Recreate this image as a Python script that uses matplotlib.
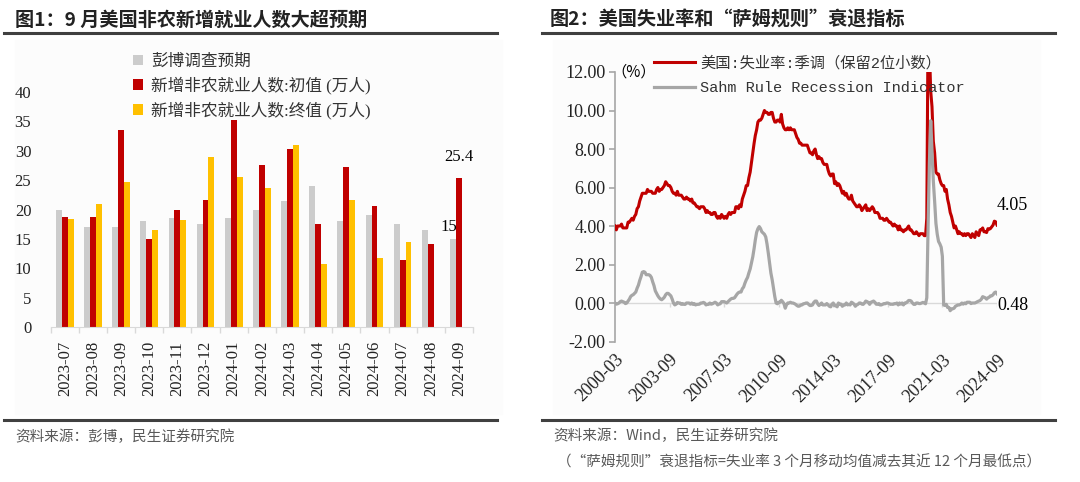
import numpy as np
import pandas as pd
import matplotlib.pyplot as plt
from matplotlib.lines import Line2D
from matplotlib.patches import Rectangle
from matplotlib.font_manager import FontProperties

# ---- chart 1 data: nonfarm payrolls (10k persons)
months = ['2023-07', '2023-08', '2023-09', '2023-10', '2023-11', '2023-12', '2024-01', '2024-02',
          '2024-03', '2024-04', '2024-05', '2024-06', '2024-07', '2024-08', '2024-09']
bbg_expect = [20.0, 17.0, 17.0, 18.0, 18.5, 17.5, 18.5, 20.0, 21.4, 24.0, 18.0, 19.0, 17.5, 16.5, 15.0]
nfp_first = [18.7, 18.7, 33.6, 15.0, 19.9, 21.6, 35.3, 27.5, 30.3, 17.5, 27.2, 20.6, 11.4, 14.2, 25.4]
nfp_final = [18.4, 21.0, 24.6, 16.5, 18.2, 29.0, 25.6, 23.6, 31.0, 10.8, 21.6, 11.8, 14.4, np.nan, np.nan]

# ---- chart 2 data: monthly from 2000-03 to 2024-09
unemp = [4.0, 3.8, 4.0, 4.0, 4.0, 4.1, 3.9, 3.9, 3.9, 3.9,
         4.2, 4.2, 4.3, 4.4, 4.3, 4.5, 4.6, 4.9, 5.0, 5.3, 5.5, 5.7,
         5.7, 5.7, 5.7, 5.9, 5.8, 5.8, 5.8, 5.7, 5.7, 5.7, 5.9, 6.0,
         5.8, 5.9, 5.9, 6.0, 6.1, 6.3, 6.2, 6.1, 6.1, 6.0, 5.8, 5.7,
         5.7, 5.6, 5.8, 5.6, 5.6, 5.6, 5.5, 5.4, 5.4, 5.5, 5.4, 5.4,
         5.3, 5.4, 5.2, 5.2, 5.1, 5.0, 5.0, 4.9, 5.0, 5.0, 5.0, 4.9,
         4.7, 4.8, 4.7, 4.7, 4.6, 4.6, 4.7, 4.7, 4.5, 4.4, 4.5, 4.4,
         4.6, 4.5, 4.4, 4.5, 4.4, 4.6, 4.7, 4.6, 4.7, 4.7, 4.7, 5.0,
         5.0, 4.9, 5.1, 5.0, 5.4, 5.6, 5.8, 6.1, 6.1, 6.5, 6.8, 7.3,
         7.8, 8.3, 8.7, 9.0, 9.4, 9.5, 9.5, 9.6, 9.8, 10.0, 9.9, 9.9,
         9.8, 9.8, 9.9, 9.9, 9.6, 9.4, 9.4, 9.5, 9.5, 9.4, 9.8, 9.3,
         9.1, 9.0, 9.0, 9.1, 9.0, 9.1, 9.0, 9.0, 9.0, 8.8, 8.6, 8.5,
         8.3, 8.3, 8.2, 8.2, 8.2, 8.2, 8.2, 8.0, 7.8, 7.8, 7.7, 7.9,
         8.0, 7.7, 7.5, 7.6, 7.5, 7.5, 7.3, 7.2, 7.2, 7.2, 6.9, 6.7,
         6.6, 6.7, 6.7, 6.2, 6.3, 6.1, 6.2, 6.1, 5.9, 5.7, 5.8, 5.6,
         5.7, 5.5, 5.4, 5.4, 5.6, 5.3, 5.2, 5.1, 5.0, 5.0, 5.1, 5.0,
         4.8, 4.9, 5.0, 5.1, 4.8, 4.9, 4.8, 4.9, 5.0, 4.9, 4.7, 4.7,
         4.7, 4.6, 4.4, 4.4, 4.4, 4.3, 4.3, 4.4, 4.3, 4.2, 4.2, 4.1,
         4.0, 4.1, 4.0, 4.0, 3.8, 4.0, 3.8, 3.8, 3.7, 3.8, 3.8, 3.9,
         4.0, 3.8, 3.8, 3.7, 3.6, 3.6, 3.7, 3.6, 3.5, 3.6, 3.6, 3.6,
         3.5, 3.5, 4.4, 14.8, 13.2, 11.0, 10.2, 8.4, 7.8, 6.8, 6.7, 6.7,
         6.4, 6.2, 6.1, 6.1, 5.8, 5.9, 5.4, 5.1, 4.7, 4.5, 4.2, 3.9,
         4.0, 3.8, 3.6, 3.7, 3.6, 3.6, 3.5, 3.6, 3.5, 3.6, 3.6, 3.5,
         3.4, 3.6, 3.5, 3.4, 3.7, 3.6, 3.5, 3.8, 3.8, 3.9, 3.7, 3.7,
         3.66, 3.86, 3.83, 3.87, 3.96, 4.05, 4.25, 4.22, 4.05]

sahm = [0.00, -0.06, -0.04, 0.00, 0.07, 0.10, 0.07, 0.04, -0.03, 0.00,
        0.10, 0.20, 0.33, 0.40, 0.43, 0.50, 0.57, 0.77, 0.93, 1.17, 1.37, 1.60,
        1.63, 1.60, 1.47, 1.47, 1.47, 1.43, 1.33, 1.10, 0.90, 0.63, 0.50, 0.37,
        0.27, 0.20, 0.17, 0.23, 0.30, 0.43, 0.50, 0.50, 0.43, 0.37, 0.20, 0.00,
        -0.10, -0.06, 0.03, 0.00, 0.00, -0.07, -0.03, -0.07, -0.07, 0.00, 0.00, 0.00,
        -0.06, 0.00, -0.07, -0.03, -0.10, -0.07, -0.07, -0.06, 0.00, 0.00, 0.03, 0.00,
        -0.10, -0.07, -0.07, 0.00, -0.06, -0.04, 0.00, 0.04, 0.00, -0.10, -0.06, -0.04,
        0.07, 0.07, 0.07, 0.04, 0.00, 0.07, 0.14, 0.20, 0.24, 0.24, 0.27, 0.37,
        0.47, 0.54, 0.57, 0.57, 0.74, 0.83, 1.03, 1.20, 1.33, 1.56, 1.77, 2.07,
        2.40, 2.83, 3.27, 3.67, 3.86, 3.97, 3.87, 3.70, 3.63, 3.57, 3.43, 3.06,
        2.57, 2.03, 1.56, 1.20, 0.77, 0.33, 0.00, -0.04, 0.04, 0.04, 0.14, 0.07,
        -0.03, -0.27, -0.10, 0.00, 0.00, 0.04, 0.00, 0.00, -0.03, -0.07, -0.13, -0.17,
        -0.16, -0.10, -0.10, -0.04, -0.03, 0.00, 0.00, -0.07, -0.13, -0.13, -0.10, 0.03,
        0.10, 0.10, -0.04, -0.13, -0.07, 0.00, -0.10, -0.10, -0.10, -0.03, -0.10, -0.17,
        -0.20, -0.06, 0.00, -0.14, -0.13, -0.20, 0.00, -0.07, -0.06, -0.17, -0.10, -0.10,
        0.00, -0.10, -0.07, -0.10, 0.04, 0.00, -0.06, -0.17, -0.10, -0.07, 0.00, 0.00,
        -0.06, -0.07, 0.00, 0.10, 0.07, 0.03, -0.07, 0.04, 0.07, 0.10, 0.04, -0.06,
        -0.07, -0.03, -0.10, -0.10, -0.07, -0.03, -0.04, 0.00, 0.00, -0.03, -0.07, -0.06,
        -0.07, -0.03, -0.04, 0.00, -0.10, 0.00, -0.06, 0.00, -0.10, 0.00, 0.00, 0.06,
        0.13, 0.13, 0.10, 0.00, -0.07, -0.07, 0.00, 0.00, -0.03, -0.03, 0.00, 0.03,
        0.00, -0.04, 0.27, 4.04, 7.27, 9.47, 7.94, 6.34, 5.27, 4.14, 3.57, 3.20,
        3.07, 2.90, 2.43, -0.10, -0.13, -0.07, -0.23, -0.23, -0.40, -0.30, -0.30, -0.27,
        -0.17, -0.13, -0.10, -0.10, -0.07, 0.00, -0.06, 0.00, -0.04, 0.04, 0.04, 0.04,
        -0.03, 0.00, 0.00, 0.00, 0.03, 0.07, 0.10, 0.13, 0.20, 0.33, 0.30, 0.27,
        0.20, 0.27, 0.30, 0.37, 0.37, 0.43, 0.53, 0.57, 0.48]

dates = pd.date_range('2000-03-01', periods=len(unemp), freq='MS')

RED = '#c00000'
YELLOW = '#ffc000'
LGRAY = '#cccccc'
W, H = 1080, 482

def fx(px):
    return px / W

def fy(py):
    return 1 - py / H

serif_cjk = ['Liberation Serif', 'Noto Sans CJK SC']
mono_cjk = ['Liberation Mono', 'Noto Sans CJK SC']
cjk = ['Noto Sans CJK SC', 'DejaVu Sans']

fig = plt.figure(figsize=(W / 100, H / 100), dpi=100)

# background panels, frames, titles, sources
fig.add_artist(Rectangle((fx(15), fy(414)), fx(502) - fx(15), fy(40) - fy(414),
                         transform=fig.transFigure, color='#fcfcfc', zorder=-5))
fig.add_artist(Rectangle((fx(553), fy(414)), fx(1040) - fx(553), fy(40) - fy(414),
                         transform=fig.transFigure, color='#fcfcfc', zorder=-5))
for x0, x1 in [(4, 497), (542, 1055)]:
    fig.add_artist(Line2D([fx(x0), fx(x1)], [fy(33), fy(33)], transform=fig.transFigure,
                          color='#404040', lw=2.2))
    fig.add_artist(Line2D([fx(x0), fx(x1)], [fy(420), fy(420)], transform=fig.transFigure,
                          color='#404040', lw=2.2))
fig.text(fx(15), fy(20), '图1：9 月美国非农新增就业人数大超预期', family=cjk, fontsize=13.8,
         fontweight='bold', color='#222222', va='center')
fig.text(fx(550), fy(20), '图2：美国失业率和“萨姆规则”衰退指标', family=cjk, fontsize=13.8,
         fontweight='bold', color='#222222', va='center')
fig.text(fx(15), fy(437), '资料来源：彭博，民生证券研究院', family=cjk, fontsize=10.5,
         color='#595959', va='center')
fig.text(fx(553), fy(436), '资料来源：Wind，民生证券研究院', family=cjk, fontsize=10.5,
         color='#595959', va='center')
fig.text(fx(557), fy(462), '（“萨姆规则”衰退指标=失业率 3 个月移动均值减去其近 12 个月最低点）',
         family=cjk, fontsize=10.5, color='#595959', va='center')

# ---------------- chart 1
ax1 = fig.add_axes([fx(50.7), fy(327), fx(473) - fx(50.7), fy(92) - fy(327)])
ax1.patch.set_alpha(0)
x = np.arange(len(months))
bw = 0.21
b1 = ax1.bar(x - bw, bbg_expect, bw, color=LGRAY)
b2 = ax1.bar(x, nfp_first, bw, color=RED)
b3 = ax1.bar(x + bw, nfp_final, bw, color=YELLOW)
ax1.set_xlim(-0.5, len(months) - 0.5)
ax1.set_ylim(0, 40)
ax1.set_yticks(range(0, 41, 5))
ax1.set_xticks(x)
ax1.set_xticklabels(months, rotation=90)
ax1.set_xticks(np.arange(len(months) + 1) - 0.5, minor=True)
ax1.tick_params(axis='x', which='major', length=0, pad=10)
ax1.tick_params(axis='x', which='minor', length=4, color='#d9d9d9', width=1)
ax1.tick_params(axis='y', length=0, pad=14)
for lab in ax1.get_xticklabels() + ax1.get_yticklabels():
    lab.set_family('Liberation Serif')
    lab.set_fontsize(12)
    lab.set_color('#222222')
for s in ['top', 'right', 'left']:
    ax1.spines[s].set_visible(False)
ax1.spines['bottom'].set_color('#d9d9d9')
ax1.annotate(f'{nfp_first[-1]}', (x[-1], nfp_first[-1]), xytext=(0, 9), textcoords='offset points',
             ha='center', va='bottom', family='Liberation Serif', fontsize=12)
ax1.annotate(f'{bbg_expect[-1]:g}', (x[-1] - bw, bbg_expect[-1]), xytext=(-3, 3),
             textcoords='offset points', ha='center', va='bottom', family='Liberation Serif', fontsize=12)
fig.legend([b1, b2, b3], ['彭博调查预期', '新增非农就业人数:初值 (万人)', '新增非农就业人数:终值 (万人)'],
           loc='upper left', bbox_to_anchor=(fx(126), fy(47)), frameon=False,
           prop=FontProperties(family=serif_cjk, size=12), handlelength=0.6, handleheight=0.6,
           handletextpad=0.5, labelspacing=0.42, borderaxespad=0, labelcolor='#333333')

# ---------------- chart 2
ax2 = fig.add_axes([fx(615), fy(341.5), fx(997) - fx(615), fy(72) - fy(341.5)])
ax2.patch.set_alpha(0)
l1, = ax2.plot(dates, unemp, color=RED, lw=2.2, zorder=3)
l2, = ax2.plot(dates, sahm, color='#a6a6a6', lw=2.3, zorder=4)
ax2.axhline(0, color='#d9d9d9', lw=1, zorder=1)
ax2.set_xlim(dates[0], dates[-1])
ax2.set_ylim(-2, 12)
ax2.set_yticks(range(-2, 13, 2))
ax2.set_yticklabels([f'{v:.2f}' for v in range(-2, 13, 2)])
xt = dates[::42]
ax2.set_xticks(xt)
ax2.set_xticklabels([d.strftime('%Y-%m') for d in xt], rotation=45, ha='right',
                    rotation_mode='anchor')
ax2.vlines(xt[1:], -0.2, 0, color='#d9d9d9', lw=1, zorder=1)
ax2.tick_params(axis='x', length=0, pad=7)
ax2.tick_params(axis='y', length=4, color='#a6a6a6', width=1.2, pad=3)
for lab in ax2.get_xticklabels() + ax2.get_yticklabels():
    lab.set_family('Liberation Serif')
    lab.set_fontsize(13)
    lab.set_color('#222222')
for s in ['top', 'right', 'bottom']:
    ax2.spines[s].set_visible(False)
ax2.spines['left'].set_color('#a6a6a6')
ax2.spines['left'].set_linewidth(1.2)
ax2.text(-0.01, 1.0, '（%）', transform=ax2.transAxes, family=cjk, fontsize=11, va='center', ha='left')
ax2.annotate(f'{unemp[-1]:.2f}', (dates[-1], unemp[-1]), xytext=(0, 8), textcoords='offset points',
             ha='left', va='bottom', family='Liberation Serif', fontsize=13, annotation_clip=False)
ax2.annotate(f'{sahm[-1]:.2f}', (dates[-1], sahm[-1]), xytext=(0, -2), textcoords='offset points',
             ha='left', va='top', family='Liberation Serif', fontsize=13, annotation_clip=False)
fig.legend([l1, l2], ['美国:失业率:季调（保留2位小数）', 'Sahm Rule Recession Indicator'],
           loc='upper left', bbox_to_anchor=(fx(648), fy(50)), frameon=False,
           prop=FontProperties(family=mono_cjk, size=11), handlelength=2.7,
           handletextpad=0.3, labelspacing=0.7, borderaxespad=0, labelcolor='#333333')

fig.savefig('out.png', dpi=100)
